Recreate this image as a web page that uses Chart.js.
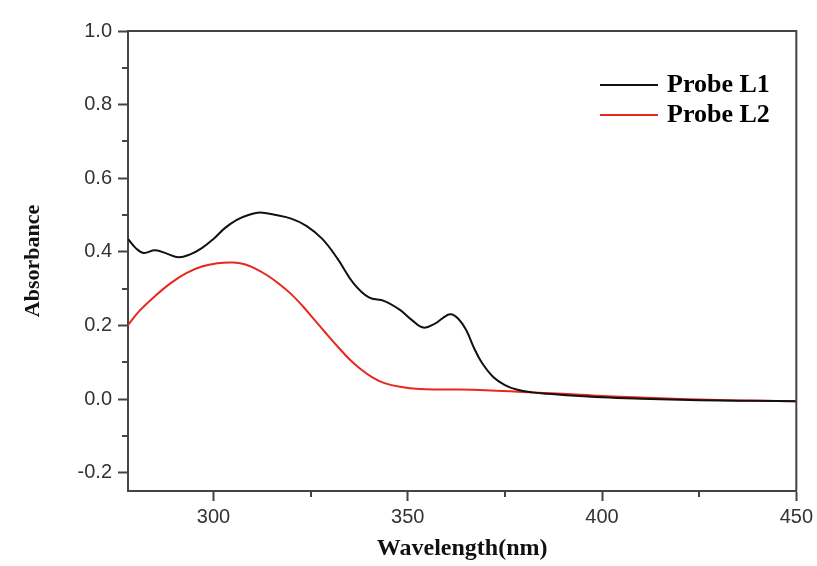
<!DOCTYPE html>
<html>
<head>
<meta charset="utf-8">
<script src="https://cdn.jsdelivr.net/npm/chart.js@4.4.1/dist/chart.umd.min.js"></script>
<style>
  html, body { margin: 0; padding: 0; background: #fff; }
  #wrap { width: 817px; height: 566px; }
</style>
</head>
<body>
<div id="wrap"><canvas id="uvchart" width="817" height="566"></canvas></div>
<script>
// wavelength (nm) / absorbance
var wlL1 = [278, 280, 282, 285, 288, 291, 294, 297, 300, 303, 306, 309, 312, 316, 320, 324, 328, 332, 336, 340, 344, 348, 351, 354, 357, 359, 361, 363, 365, 367, 369, 372, 375, 378, 382, 386, 390, 400, 410, 420, 430, 440, 450];
var absL1 = [0.435, 0.41, 0.397, 0.404, 0.395, 0.385, 0.393, 0.41, 0.435, 0.465, 0.487, 0.5, 0.507, 0.5, 0.49, 0.47, 0.435, 0.38, 0.315, 0.276, 0.266, 0.242, 0.215, 0.194, 0.205, 0.22, 0.23, 0.218, 0.188, 0.14, 0.1, 0.06, 0.038, 0.026, 0.018, 0.014, 0.011, 0.005, 0.001, -0.002, -0.004, -0.005, -0.006];

var wlL2 = [278, 281, 285, 289, 293, 297, 301, 305, 308, 311, 314, 317, 320, 323, 326, 329, 332, 335, 338, 341, 344, 348, 353, 360, 370, 380, 390, 400, 410, 420, 430, 440, 450];
var absL2 = [0.201, 0.24, 0.28, 0.315, 0.342, 0.36, 0.369, 0.371, 0.366, 0.353, 0.335, 0.312, 0.285, 0.252, 0.215, 0.178, 0.142, 0.108, 0.08, 0.058, 0.043, 0.033, 0.027, 0.026, 0.024, 0.019, 0.014, 0.008, 0.004, 0.0, -0.003, -0.005, -0.006];

var xTicks = [300, 350, 400, 450];
var xMinor = [325, 375, 425];
var yTicks = [-0.2, 0.0, 0.2, 0.4, 0.6, 0.8, 1.0];
var yMinor = [-0.1, 0.1, 0.3, 0.5, 0.7, 0.9];

function toPoints(xs, ys) {
    return xs.map(function (x, i) { return { x: x, y: ys[i] }; });
}

var axisColor = '#444';

// frame on top/right, short minor ticks, and the legend box
var extrasPlugin = {
    id: 'extras',
    afterDraw: function (chart) {
        var ctx = chart.ctx;
        var a = chart.chartArea;
        var xs = chart.scales.x, ys = chart.scales.y;
        ctx.save();
        ctx.strokeStyle = axisColor;
        ctx.lineWidth = 2;
        ctx.beginPath();
        ctx.moveTo(a.left, a.top);
        ctx.lineTo(a.right, a.top);
        ctx.lineTo(a.right, a.bottom);
        ctx.stroke();

        ctx.beginPath();
        xMinor.forEach(function (v) {
            var px = Math.round(xs.getPixelForValue(v));
            ctx.moveTo(px, a.bottom);
            ctx.lineTo(px, a.bottom + 6);
        });
        yMinor.forEach(function (v) {
            var py = Math.round(ys.getPixelForValue(v));
            ctx.moveTo(a.left, py);
            ctx.lineTo(a.left - 6, py);
        });
        ctx.stroke();

        // legend
        var rows = [92, 122];
        ctx.font = 'bold 26px "Liberation Serif", "Times New Roman", serif';
        ctx.textBaseline = 'alphabetic';
        ctx.textAlign = 'left';
        chart.data.datasets.forEach(function (ds, i) {
            var y = rows[i];
            ctx.strokeStyle = ds.borderColor;
            ctx.lineWidth = 2;
            ctx.beginPath();
            ctx.moveTo(600, y - 7);
            ctx.lineTo(658, y - 7);
            ctx.stroke();
            ctx.fillStyle = '#000';
            ctx.fillText(ds.label, 667, y);
        });
        ctx.restore();
    }
};

var ctxuv = document.getElementById('uvchart');
var uvchart = new Chart(ctxuv, {
    type: 'line',
    data: {
        datasets: [{
            label: 'Probe L1',
            data: toPoints(wlL1, absL1),
            borderColor: '#111111',
            borderWidth: 2,
            pointRadius: 0,
            tension: 0.4,
            fill: false
        }, {
            label: 'Probe L2',
            data: toPoints(wlL2, absL2),
            borderColor: '#e8271f',
            borderWidth: 2,
            pointRadius: 0,
            tension: 0.4,
            fill: false
        }]
    },
    options: {
        responsive: false,
        animation: false,
        layout: { padding: { left: 0, top: 31, right: 20, bottom: 0 } },
        plugins: {
            legend: { display: false },
            tooltip: { enabled: false }
        },
        scales: {
            x: {
                type: 'linear',
                min: 278,
                max: 450,
                afterBuildTicks: function (scale) {
                    scale.ticks = xTicks.map(function (v) { return { value: v }; });
                },
                afterFit: function (scale) { scale.height = 75; },
                grid: {
                    drawOnChartArea: false,
                    drawTicks: true,
                    tickLength: 10,
                    tickColor: axisColor,
                    tickWidth: 2
                },
                border: { color: axisColor, width: 2 },
                ticks: {
                    padding: 4,
                    color: '#333',
                    maxRotation: 0,
                    font: { family: '"Liberation Sans", Arial, sans-serif', size: 20 },
                    callback: function (v) { return v; }
                },
                title: {
                    display: true,
                    text: 'Wavelength(nm)',
                    color: '#111',
                    padding: { top: 0, bottom: 3 },
                    font: { family: '"Liberation Serif", "Times New Roman", serif', size: 24, weight: 'bold' }
                }
            },
            y: {
                min: -0.25,
                max: 1.0,
                afterBuildTicks: function (scale) {
                    scale.ticks = yTicks.map(function (v) { return { value: v }; });
                },
                afterFit: function (scale) { scale.width = 128; },
                grid: {
                    drawOnChartArea: false,
                    drawTicks: true,
                    tickLength: 10,
                    tickColor: axisColor,
                    tickWidth: 2
                },
                border: { color: axisColor, width: 2 },
                ticks: {
                    padding: 6,
                    color: '#333',
                    font: { family: '"Liberation Sans", Arial, sans-serif', size: 20 },
                    callback: function (v) { return v.toFixed(1); }
                },
                title: {
                    display: true,
                    text: 'Absorbance',
                    color: '#111',
                    padding: { top: 20, bottom: 0 },
                    font: { family: '"Liberation Serif", "Times New Roman", serif', size: 22, weight: 'bold' }
                }
            }
        }
    },
    plugins: [extrasPlugin]
});
</script>
</body>
</html>
